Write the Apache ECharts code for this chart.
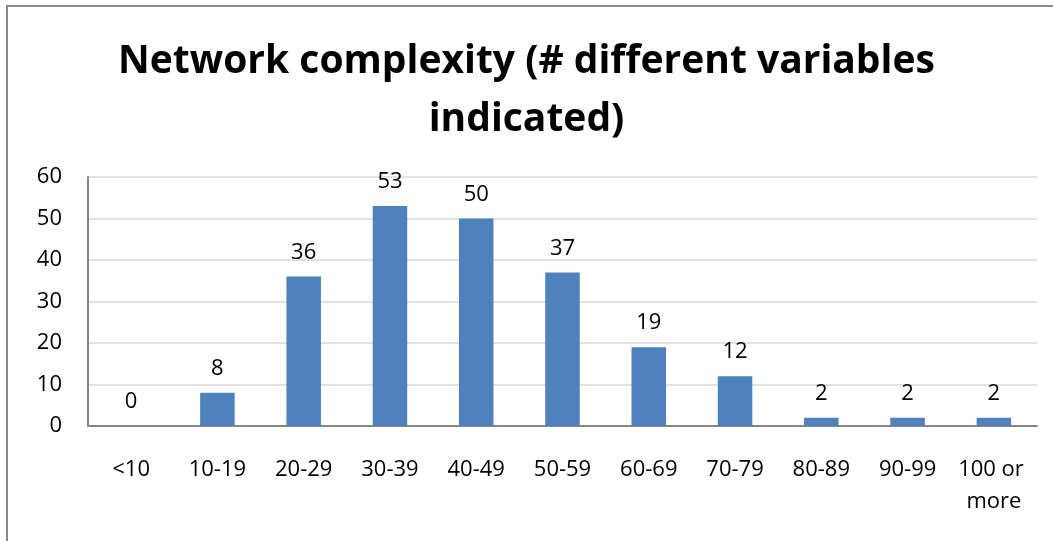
<!DOCTYPE html>
<html>
<head>
<meta charset="utf-8">
<script src="https://cdn.jsdelivr.net/npm/echarts@6/dist/echarts.min.js"></script>
<style>
  html, body { margin: 0; padding: 0; background: #fff; }
  #chart { width: 1053px; height: 541px; }
</style>
</head>
<body>
<div id="chart"></div>
<script>
// Histogram: how many different variables each network indicates
const titleText = 'Network complexity (# different variables\nindicated)';
const categories = ['<10', '10-19', '20-29', '30-39', '40-49', '50-59', '60-69', '70-79', '80-89', '90-99', '100 or more'];
const counts = [0, 8, 36, 53, 50, 37, 19, 12, 2, 2, 2];
const yTicks = { min: 0, max: 60, interval: 10 };

const FONT = '"Open Sans", "Liberation Sans", sans-serif';

const chart = echarts.init(document.getElementById('chart'), null, { renderer: 'canvas' });
chart.setOption({
  animation: false,
  backgroundColor: '#ffffff',
  graphic: [{
    type: 'rect',
    shape: { x: 7, y: 6, width: 1100, height: 600 },
    style: { fill: 'none', stroke: '#898989', lineWidth: 2 },
    silent: true
  }],
  title: {
    text: titleText,
    left: 'center',
    top: 28,
    textStyle: {
      fontFamily: FONT,
      fontWeight: 'bold',
      fontSize: 39,
      lineHeight: 58,
      color: '#000000'
    }
  },
  grid: { left: 88, right: 16, top: 177, bottom: 115, containLabel: false },
  xAxis: {
    type: 'category',
    data: categories,
    axisLine: { lineStyle: { color: '#868686', width: 2 } },
    axisTick: { show: false },
    axisLabel: {
      fontFamily: FONT,
      fontSize: 22,
      color: '#000000',
      margin: 28,
      lineHeight: 32,
      interval: 0,
      width: 82,
      overflow: 'break'
    }
  },
  yAxis: {
    type: 'value',
    min: yTicks.min,
    max: yTicks.max,
    interval: yTicks.interval,
    axisLine: { show: true, lineStyle: { color: '#868686', width: 2 } },
    axisTick: { show: false },
    splitLine: { lineStyle: { color: '#d9d9d9', width: 1.5 } },
    axisLabel: {
      fontFamily: FONT,
      fontSize: 22,
      color: '#000000',
      margin: 26
    }
  },
  series: [{
    type: 'bar',
    data: counts,
    barWidth: '40%',
    itemStyle: { color: '#4f81bd' },
    label: {
      show: true,
      position: 'top',
      distance: 13,
      fontFamily: FONT,
      fontSize: 22,
      color: '#000000'
    }
  }]
});
</script>
</body>
</html>
